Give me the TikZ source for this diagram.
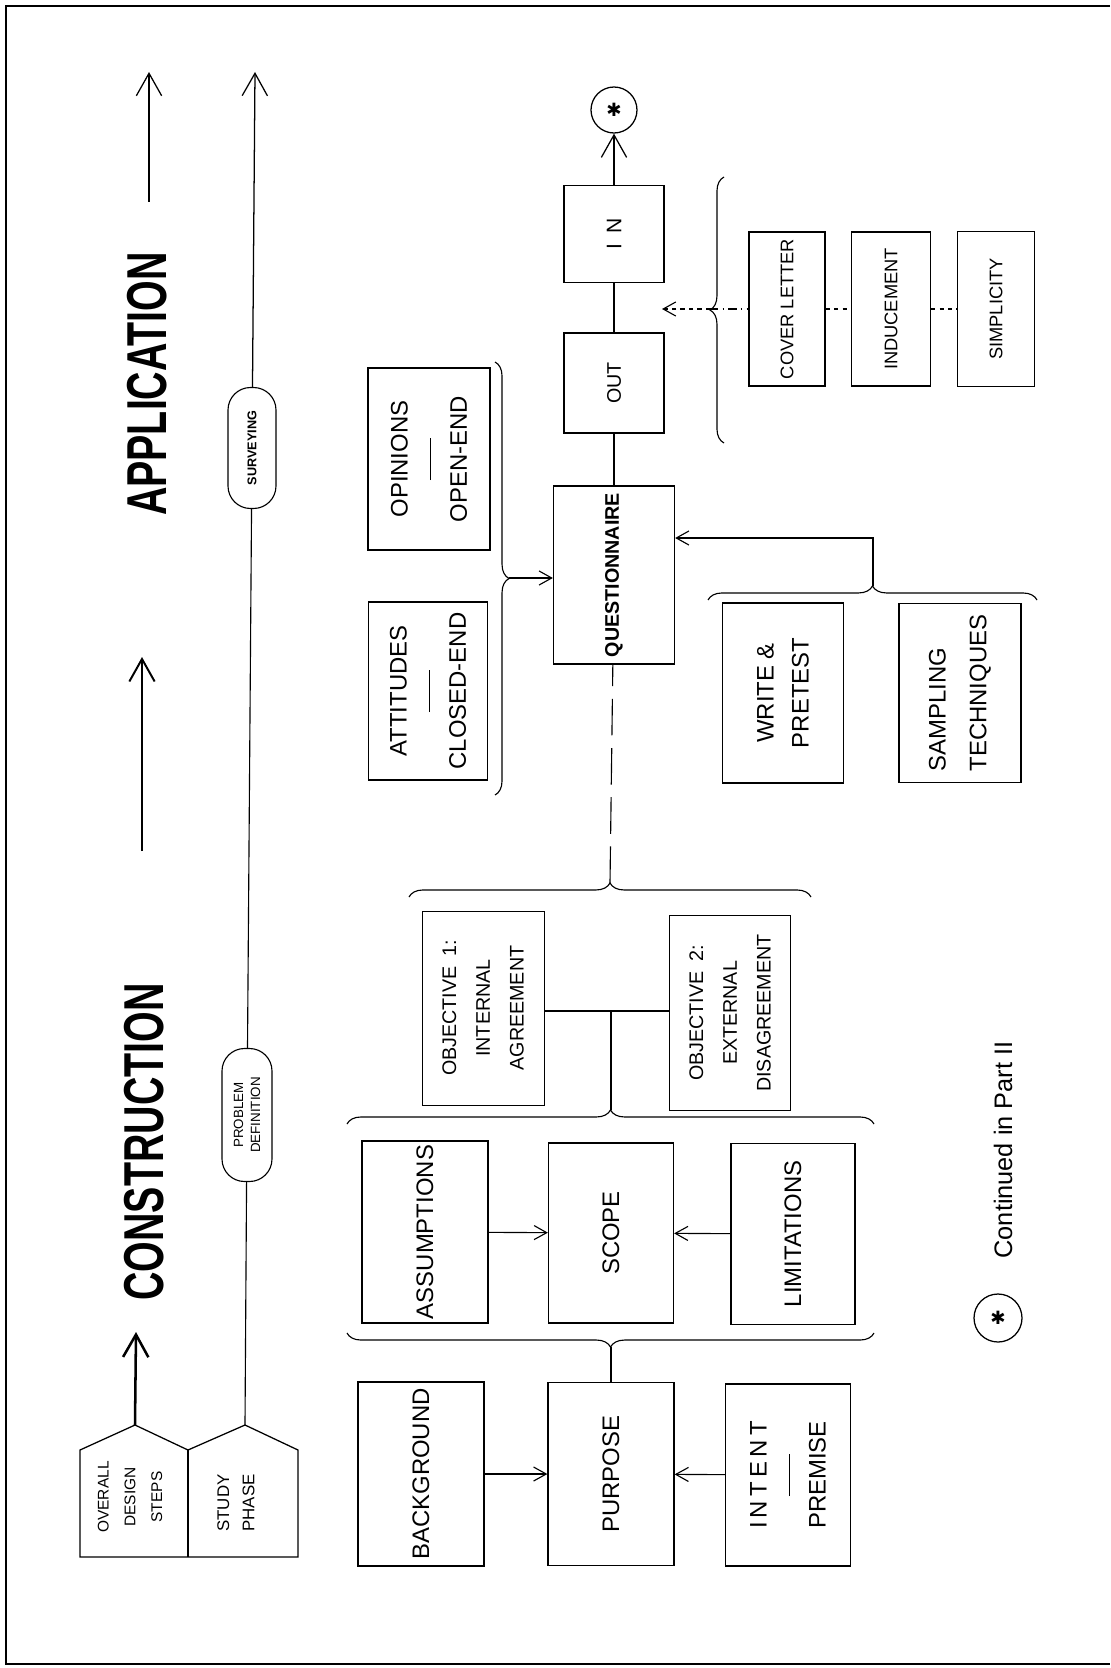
\documentclass[tikz,border=0pt]{standalone}
\usepackage{fontspec}
\setmainfont{Liberation Sans}
\newfontfamily\symfont{DejaVu Sans}
\newfontfamily\spacedfont[LetterSpace=18]{Liberation Sans}
\usetikzlibrary{arrows.meta,decorations.pathreplacing,calc}

\newcommand{\pxl}{0.025cm}
\tikzset{
  sz/.style 2 args={minimum width=#2*\pxl, minimum height=#1*\pxl},
  box/.style={draw, line width=0.9pt, rotate=90, inner sep=1pt, align=center,
    font=\fontsize{17}{21}\selectfont},
  smallbox/.style={box, font=\fontsize{13}{16}\selectfont},
  objbox/.style={box, line width=0.6pt, font=\fontsize{14}{24}\selectfont},
  oval/.style={draw, line width=0.8pt, rotate=90, rounded corners=16pt, inner sep=1pt, align=center},
  title/.style={rotate=90, inner sep=0pt},
  brc/.style={decorate, decoration={brace, amplitude=10pt, aspect=0.5}, line width=0.8pt},
  conn/.style={line width=0.8pt},
  arr/.style={conn, -{Straight Barb[length=9pt,width=10pt]}},
  bigarr/.style={line width=0.9pt, -{Straight Barb[length=16pt,width=18pt]}},
  longdash/.style={conn, dash pattern=on 26pt off 9pt},
}
\newcommand{\sepline}{\rule[0.5ex]{30pt}{0.8pt}}

\begin{document}
\begin{tikzpicture}[x=0.025cm, y=-0.025cm]
\useasboundingbox (0,0) rectangle (1110,1668);
\draw[line width=1.3pt] (1110,6) -- (6,6) -- (6,1664) -- (1110,1664);

% phase tabs and the two time lines
\draw[line width=0.9pt] (80,1557) -- (80,1450) -- (135,1425) -- (188,1450) -- (245,1425) -- (298,1450) -- (298,1557) -- cycle;
\draw[line width=0.9pt] (188,1450) -- (188,1557);
\coordinate (odsTop) at (135,1425);
\coordinate (spTop) at (245,1425);
\node[rotate=90, align=center, font=\fontsize{11}{19}\selectfont] (ods) at (130,1497) {OVERALL\\DESIGN\\STEPS};
\node[rotate=90, align=center, font=\fontsize{12}{18}\selectfont] (sp) at (236,1503) {STUDY\\PHASE};

\coordinate (h1) at (136,1332);
\coordinate (t2) at (142,851);
\coordinate (h2) at (142,657);
\coordinate (t3) at (149,202);
\coordinate (h3) at (149,72);
\draw[bigarr, line width=1.8pt] (odsTop) -- (h1);
\draw[bigarr, line width=1.4pt] (t2) -- (h2);
\draw[bigarr] (t3) -- (h3);
\node[title] (cons) at (144,1142) {\scalebox{0.7}[1]{\bfseries\fontsize{40}{40}\selectfont CONSTRUCTION}};
\node[title] (appl) at (147,384) {\scalebox{0.7}[1]{\bfseries\fontsize{40}{40}\selectfont APPLICATION}};

\node[oval, sz={50}{133}, font=\fontsize{9.5}{12}\selectfont] (pd) at (247,1115) {PROBLEM\\DEFINITION};
\node[oval, sz={48}{121}, font=\bfseries\fontsize{9}{11}\selectfont] (sv) at (252,448) {SURVEYING};
\coordinate (svTip) at (255,72);
\draw[conn] (spTop) -- (pd);
\draw[conn] (pd) -- (sv);
\draw[bigarr] (sv) -- (svTip);

% purpose row
\node[box, sz={126}{184}] (bg) at (421,1474) {BACKGROUND};
\node[box, sz={126}{183}] (pu) at (611,1474) {PURPOSE};
\node[box, sz={125}{182}] (ip) at (788,1475) {{\spacedfont INTENT}\\\sepline\\PREMISE};
\draw[arr] (bg) -- (pu);
\draw[arr] (ip) -- (pu);

% scope row
\node[box, sz={126}{182}] (as) at (425,1232) {ASSUMPTIONS};
\node[box, sz={125}{180}] (sc) at (611,1233) {SCOPE};
\node[box, sz={124}{181}] (li) at (793,1234) {LIMITATIONS};
\draw[arr] (as) -- (sc);
\draw[arr] (li) -- (sc);

\draw[brc] (874,1333) -- (347,1333);
\coordinate (lbTip) at (611,1347);
\draw[conn] (pu) -- (lbTip);
\draw[brc] (347,1124) -- (874,1124);
\coordinate (ubTip) at (611,1110);

% objectives
\node[objbox, sz={122}{194}] (o1) at (483,1008) {OBJECTIVE\enspace 1:\\INTERNAL\\AGREEMENT};
\node[objbox, sz={121}{195}] (o2) at (730,1013) {OBJECTIVE\enspace 2:\\EXTERNAL\\DISAGREEMENT};
\coordinate (fork) at (611,1011);
\draw[conn] (o1.south |- fork) -- (o2.north |- fork);
\draw[conn] (fork) -- (ubTip);
\draw[brc] (409,897) -- (811,897);
\coordinate (obTip) at (610,883);

% questionnaire
\node[box, sz={121}{178}, font=\bfseries\fontsize{14}{17}\selectfont] (q) at (614,575) {QUESTIONNAIRE};
\draw[longdash] (obTip) -- (q);
\node[box, sz={119}{178}] (at) at (428,691) {ATTITUDES\\\sepline\\CLOSED-END};
\node[box, sz={122}{182}] (op) at (429,459) {OPINIONS\\\sepline\\OPEN-END};
\draw[brc] (495,362) -- (495,795);
\coordinate (abTip) at (509,578);
\draw[arr] (abTip) -- (q.north |- abTip);

\node[box, sz={121}{180}, font=\fontsize{17}{25}\selectfont] (wp) at (783,693) {WRITE \&\\PRETEST};
\node[box, sz={122}{179}, align=left, font=\fontsize{17}{29}\selectfont] (st) at (960,693) {SAMPLING\\TECHNIQUES};
\draw[brc] (708,600) -- (1037,600);
\coordinate (wbTip) at (873,586);
\coordinate (wbElb) at (873,538);
\draw[arr] (wbTip) -- (wbElb) -- (q.south |- wbElb);

% out / in
\node[smallbox, sz={100}{100}, font=\fontsize{14}{16}\selectfont] (out) at (614,383) {OUT};
\node[smallbox, sz={100}{97}, font=\fontsize{15}{16}\selectfont] (in) at (614,234) {I\enspace N};
\node[draw, circle, line width=0.9pt, minimum size=46*\pxl, inner sep=0pt] (star) at (614,110) {\symfont\fontsize{13}{13}\selectfont ✱};
\draw[conn] (q) -- (out);
\draw[conn] (out) -- (in);
\draw[bigarr] (in) -- (star);

\node[smallbox, sz={76}{154}] (cl) at (787,309) {COVER LETTER};
\node[smallbox, sz={79}{154}] (ind) at (891,309) {INDUCEMENT};
\node[smallbox, sz={77}{155}] (sim) at (996,309) {SIMPLICITY};
\draw[brc] (724,443) -- (724,177);
\coordinate (cbTip) at (710,309);
\coordinate (cbHead) at (662,309);
\draw[arr, dashed] (cbTip) -- (cbHead);
\draw[conn, dash pattern=on 6pt off 3pt on 1pt off 3pt] (cbTip) -- (cl);
\draw[conn, dashed] (cl) -- (ind);
\draw[conn, dashed] (ind) -- (sim);

% legend
\node[draw, circle, line width=0.9pt, minimum size=48*\pxl, inner sep=0pt] (lg) at (998,1318) {\symfont\fontsize{13}{13}\selectfont ✱};
\node[rotate=90, font=\fontsize{18}{20}\selectfont] (cont) at (1003,1150) {Continued in Part II};
\end{tikzpicture}
\end{document}
